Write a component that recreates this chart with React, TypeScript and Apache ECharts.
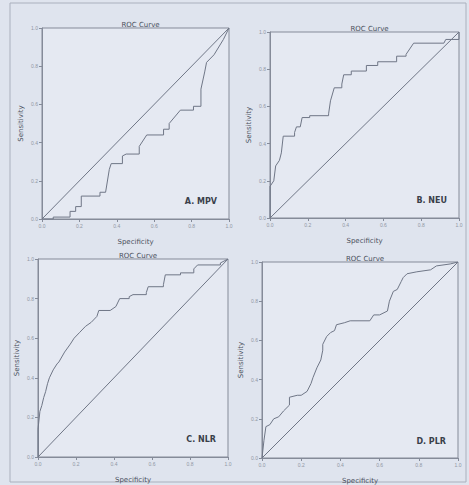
import React, { useEffect, useRef } from "react";
import * as echarts from "echarts";

const ticks = [0, 0.2, 0.4, 0.6, 0.8, 1.0];
const panelLabels = ["A. MPV", "B. NEU", "C. NLR", "D. PLR"];
const titleText = "ROC Curve";
const xName = "Specificity";
const yName = "Sensitivity";

const curveA: [number, number][] = [
  [0, 0], [0.06, 0], [0.06, 0.01], [0.15, 0.01], [0.15, 0.04], [0.18, 0.04], [0.18, 0.065], [0.21, 0.065],
  [0.21, 0.12], [0.31, 0.12], [0.31, 0.14], [0.34, 0.14], [0.36, 0.26], [0.37, 0.29], [0.43, 0.29],
  [0.43, 0.33], [0.45, 0.34], [0.52, 0.34], [0.52, 0.38], [0.56, 0.44], [0.65, 0.44], [0.65, 0.47],
  [0.68, 0.47], [0.68, 0.5], [0.74, 0.57], [0.81, 0.57], [0.81, 0.59], [0.85, 0.59], [0.85, 0.68],
  [0.87, 0.77], [0.88, 0.82], [0.92, 0.86], [0.97, 0.94], [1, 1],
];
const curveB: [number, number][] = [
  [0, 0], [0, 0.17], [0.02, 0.2], [0.03, 0.28], [0.05, 0.31], [0.06, 0.35], [0.07, 0.44], [0.13, 0.44],
  [0.13, 0.46], [0.14, 0.49], [0.16, 0.49], [0.17, 0.54], [0.21, 0.54], [0.21, 0.55], [0.31, 0.55],
  [0.31, 0.56], [0.32, 0.63], [0.34, 0.7], [0.38, 0.7], [0.38, 0.72], [0.39, 0.77], [0.43, 0.77],
  [0.43, 0.79], [0.51, 0.79], [0.51, 0.82], [0.57, 0.82], [0.57, 0.84], [0.67, 0.84], [0.67, 0.87],
  [0.72, 0.87], [0.72, 0.88], [0.76, 0.94], [0.92, 0.94], [0.93, 0.96], [1, 0.96], [1, 1],
];
const curveC: [number, number][] = [
  [0, 0], [0, 0.14], [0.01, 0.23], [0.02, 0.26], [0.03, 0.3], [0.04, 0.33], [0.05, 0.37], [0.06, 0.4],
  [0.08, 0.44], [0.1, 0.47], [0.11, 0.48], [0.14, 0.53], [0.17, 0.57], [0.19, 0.6], [0.22, 0.63],
  [0.25, 0.66], [0.28, 0.68], [0.31, 0.71], [0.32, 0.74], [0.38, 0.74], [0.41, 0.76], [0.43, 0.8],
  [0.48, 0.8], [0.48, 0.81], [0.5, 0.82], [0.57, 0.82], [0.57, 0.83], [0.58, 0.86], [0.66, 0.86],
  [0.66, 0.87], [0.67, 0.92], [0.75, 0.92], [0.75, 0.93], [0.82, 0.93], [0.82, 0.95], [0.84, 0.97],
  [0.96, 0.97], [0.96, 0.98], [1, 1],
];
const curveD: [number, number][] = [
  [0, 0], [0.01, 0.09], [0.02, 0.16], [0.04, 0.17], [0.06, 0.2], [0.085, 0.21], [0.11, 0.24],
  [0.14, 0.27], [0.14, 0.31], [0.18, 0.32], [0.2, 0.32], [0.23, 0.34], [0.25, 0.38], [0.26, 0.41],
  [0.28, 0.46], [0.3, 0.5], [0.31, 0.55], [0.31, 0.58], [0.33, 0.62], [0.35, 0.64], [0.37, 0.65],
  [0.38, 0.68], [0.42, 0.69], [0.45, 0.7], [0.55, 0.7], [0.57, 0.73], [0.6, 0.73], [0.64, 0.75],
  [0.65, 0.8], [0.67, 0.85], [0.69, 0.86], [0.71, 0.9], [0.72, 0.92], [0.74, 0.94], [0.79, 0.95],
  [0.86, 0.96], [0.89, 0.98], [0.96, 0.99], [1, 1],
];
const diagonal: [number, number][] = [[0, 0], [1, 1]];
const curves = [curveA, curveB, curveC, curveD];

export default function App() {
  const ref = useRef<HTMLDivElement>(null);
  useEffect(() => {
    if (!ref.current) return;
    const chart = echarts.init(ref.current, undefined, { renderer: "svg" });
    const grids = [
      { left: 42, top: 28, width: 187, height: 191 },
      { left: 270, top: 32, width: 189, height: 186 },
      { left: 38, top: 259, width: 190, height: 198 },
      { left: 262, top: 262, width: 196, height: 197 },
    ];
    const axisColor = "#858b99";
    const lineColor = "#6f7686";
    const labelColor = "#9097a4";
    const textColor = "#4a505c";
    const fmt = (v: number) => v.toFixed(1);
    const option: any = {
      animation: false,
      backgroundColor: "#dfe4ee",
      title: grids.map((g) => ({
        text: titleText,
        left: g.left + g.width / 2,
        top: g.top - 12,
        textAlign: "center",
        textStyle: { fontSize: 7, fontWeight: "normal", color: textColor, fontFamily: "DejaVu Sans" },
      })),
      grid: grids.map((g) => ({
        ...g,
        show: true,
        borderColor: axisColor,
        borderWidth: 1,
        backgroundColor: "#e5e9f2",
      })),
      xAxis: grids.map((_, i) => ({
        type: "value",
        gridIndex: i,
        min: 0,
        max: 1,
        interval: 0.2,
        name: xName,
        nameLocation: "middle",
        nameGap: 19,
        nameTextStyle: { fontSize: 7, color: textColor, fontFamily: "DejaVu Sans" },
        axisLine: { lineStyle: { color: axisColor } },
        axisTick: { show: true, length: 3, lineStyle: { color: axisColor } },
        splitLine: { show: false },
        axisLabel: { fontSize: 5, color: labelColor, formatter: fmt, margin: 4 },
      })),
      yAxis: grids.map((_, i) => ({
        type: "value",
        gridIndex: i,
        min: 0,
        max: 1,
        interval: 0.2,
        name: yName,
        nameLocation: "middle",
        nameGap: 18,
        nameTextStyle: { fontSize: 7, color: textColor, fontFamily: "DejaVu Sans" },
        axisLine: { lineStyle: { color: axisColor } },
        axisTick: { show: true, length: 3, lineStyle: { color: axisColor } },
        splitLine: { show: false },
        axisLabel: { fontSize: 5, color: labelColor, formatter: fmt, margin: 4 },
      })),
      series: curves.flatMap((c, i) => [
        {
          type: "line",
          xAxisIndex: i,
          yAxisIndex: i,
          data: c,
          showSymbol: false,
          lineStyle: { color: lineColor, width: 1 },
        },
        {
          type: "line",
          xAxisIndex: i,
          yAxisIndex: i,
          data: diagonal,
          showSymbol: false,
          lineStyle: { color: lineColor, width: 1 },
        },
      ]),
      graphic: [
        {
          type: "rect",
          shape: { x: 10, y: 3, width: 456, height: 479 },
          style: { fill: "none", stroke: "#aab0bd", lineWidth: 1 },
          silent: true,
        },
        ...grids.map((g, i) => ({
          type: "text",
          x: g.left + g.width - 12,
          y: g.top + g.height - 18,
          style: {
            text: panelLabels[i],
            fontSize: 8,
            fontWeight: "bold",
            fill: "#3a3f4a",
            align: "right",
            verticalAlign: "middle",
            fontFamily: "DejaVu Sans",
          },
        })),
      ],
    };
    chart.setOption(option);
    return () => chart.dispose();
  }, []);
  return (
    <div
      ref={ref}
      style={{ position: "absolute", left: 0, top: 0, width: 469, height: 485 }}
    />
  );
}
